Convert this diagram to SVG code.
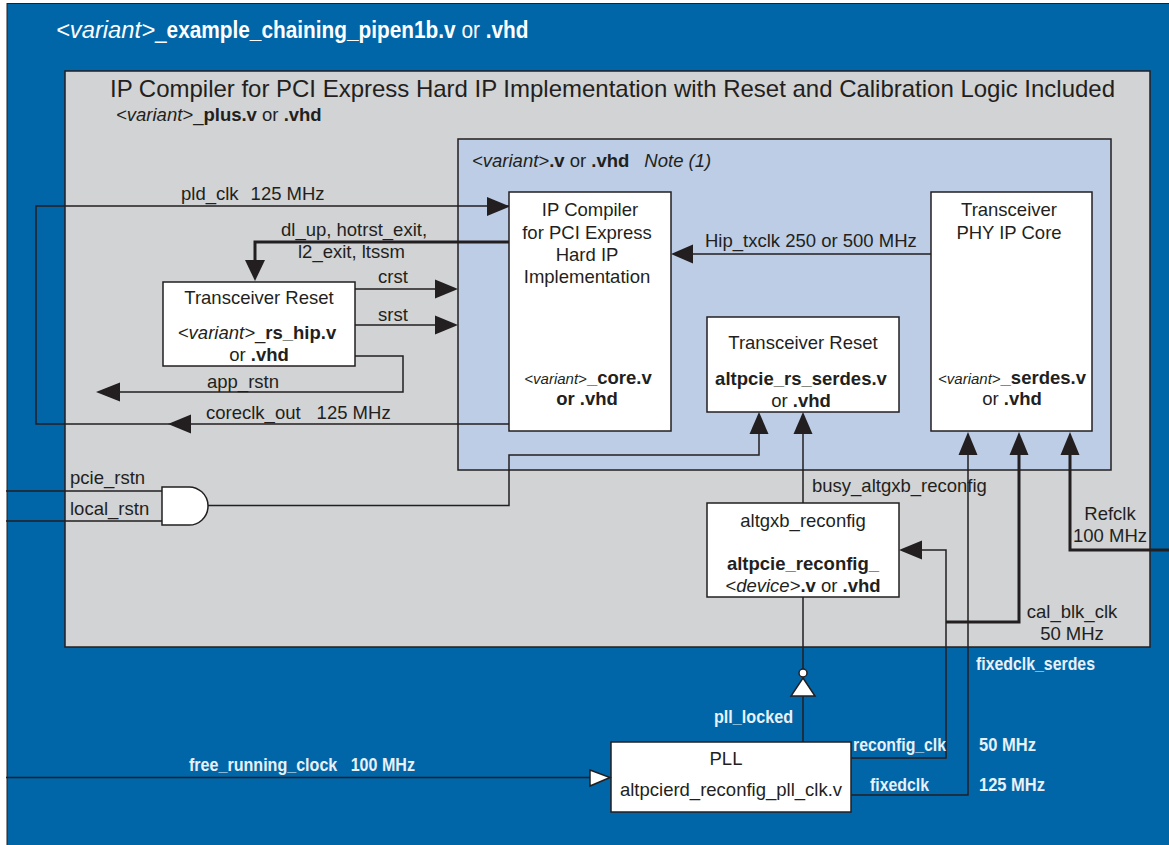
<svg xmlns="http://www.w3.org/2000/svg" width="1169" height="845" viewBox="0 0 1169 845">
<style>
text{font-family:"Liberation Sans",Arial,sans-serif;fill:#231f20;font-size:18.5px}
.m{text-anchor:middle}
.b{font-weight:bold}
.i{font-style:italic}
.sm{font-size:15px}
.w{fill:#fff;font-size:23px}
.wb{fill:#e8f0f8;font-weight:bold;font-size:19px}
.box{fill:#fff;stroke:#231f20;stroke-width:1.5}
.l{fill:none;stroke:#231f20;stroke-width:1.5}
.t{fill:none;stroke:#231f20;stroke-width:3}
.a{fill:#231f20}
</style>
<rect id="outer" x="7" y="3.500" width="1170" height="850" fill="#0066a8" stroke="#231f20" stroke-width="1"/>
<rect id="plus" x="65" y="71" width="1085" height="576" fill="#d1d3d4" stroke="#231f20" stroke-width="1.5"/>
<rect id="variant" x="458" y="139" width="653" height="331" fill="#bccde5" stroke="#231f20" stroke-width="1.5"/>
<g id="titles">
<text x="56" y="38" class="w i" textLength="99" lengthAdjust="spacingAndGlyphs">&lt;variant&gt;</text>
<text transform="translate(155 38) scale(.905 1)" class="w">_<tspan class="b">example_chaining_pipen1b.v</tspan> or <tspan class="b">.vhd</tspan></text>
<text x="110" y="97" style="font-size:24px" textLength="1005" lengthAdjust="spacing">IP Compiler for PCI Express Hard IP Implementation with Reset and Calibration Logic Included</text>
<text x="116" y="121"><tspan class="i">&lt;variant&gt;</tspan>_<tspan class="b">plus.v</tspan> or <tspan class="b">.vhd</tspan></text>
<text x="472" y="167"><tspan class="i">&lt;variant&gt;</tspan><tspan class="b">.v</tspan> or <tspan class="b">.vhd</tspan><tspan class="i" dx="15">Note (1)</tspan></text>
</g>
<g id="connectors">
<path class="l" d="M509 206H36V424H509"/>
<path class="t" d="M509 242H255V262"/>
<path class="l" d="M355 289H440M355 325H440M355 356H403V392H110"/>
<path class="l" d="M6 491H162M6 521H162M208 505.500H509V455H759V430"/>
<path class="l" d="M803 503V430M803 597V669M803 696V742"/>
<path class="l" d="M851 758H946V550H915M851 795H968V450"/>
<path class="t" d="M946 622H1019V440M1070 440V550H1169"/>
<path class="l" d="M6 777.500H592M931 254H685"/>
<g class="a">
<path d="M510 206.500L487 197V216Z"/>
<path d="M255 281L245 260H265Z"/>
<path d="M458 289L435 279.500V298.500Z"/>
<path d="M458 325L435 315.500V334.500Z"/>
<path d="M96 392L120 382.500V401.500Z"/>
<path d="M168 424L191 414.500V433.500Z"/>
<path d="M671 254L693 244.500V263.500Z"/>
<path d="M759 412L749.500 434H768.500Z"/>
<path d="M803 412L793.500 434H812.500Z"/>
<path d="M968 432L958.500 455H977.500Z"/>
<path d="M1019 432L1009.500 455H1028.500Z"/>
<path d="M1070 432L1060.500 455H1079.500Z"/>
<path d="M899 550L922 540.500V559.500Z"/>
</g>
</g>
<g id="ip-core">
<rect class="box" x="509" y="192" width="162" height="239"/>
<text class="m" x="590" y="216">IP Compiler</text>
<text class="m" x="587" y="239">for PCI Express</text>
<text class="m" x="587" y="261">Hard IP</text>
<text class="m" x="587" y="283">Implementation</text>
<text class="m" x="588" y="384"><tspan class="i sm">&lt;variant&gt;</tspan><tspan class="b">_core.v</tspan></text>
<text class="m b" x="587" y="405">or .vhd</text>
</g>
<g id="phy">
<rect class="box" x="931" y="192" width="161" height="239"/>
<text class="m" x="1009" y="216">Transceiver</text>
<text class="m" x="1009" y="239">PHY IP Core</text>
<text class="m" x="1012" y="384"><tspan class="i sm">&lt;variant&gt;</tspan><tspan class="b">_serdes.v</tspan></text>
<text class="m" x="1012" y="405">or <tspan class="b">.vhd</tspan></text>
</g>
<g id="reset-serdes">
<rect class="box" x="707" y="317" width="192" height="95"/>
<text class="m" x="803" y="349">Transceiver Reset</text>
<text class="m b" x="801" y="385">altpcie_rs_serdes.v</text>
<text class="m" x="801" y="407">or <tspan class="b">.vhd</tspan></text>
</g>
<g id="reset-hip">
<rect class="box" x="163" y="282" width="192" height="84"/>
<text class="m" x="259" y="304">Transceiver Reset</text>
<text class="m" x="257" y="339"><tspan class="i">&lt;variant&gt;</tspan>_<tspan class="b">rs_hip.v</tspan></text>
<text class="m" x="259" y="361">or <tspan class="b">.vhd</tspan></text>
</g>
<g id="reconfig">
<rect class="box" x="707" y="503" width="192" height="94"/>
<text class="m" x="803" y="527">altgxb_reconfig</text>
<text class="m b" x="803" y="570">altpcie_reconfig_</text>
<text class="m" x="803" y="592"><tspan class="i">&lt;device&gt;</tspan><tspan class="b">.v</tspan> or <tspan class="b">.vhd</tspan></text>
</g>
<g id="pll">
<rect class="box" x="611" y="742" width="240" height="70"/>
<text class="m" x="726" y="765">PLL</text>
<text class="m" x="731" y="796">altpcierd_reconfig_pll_clk.v</text>
</g>
<g id="and-gate">
<path class="box" d="M162 487H187A19 19 0 0 1 208 506A19 19 0 0 1 187 525H162Z"/>
</g>
<g id="inverter">
<circle cx="803" cy="673" r="4" fill="#fff" stroke="#231f20" stroke-width="1.500"/>
<path class="box" d="M803 678L815 696H791Z"/>
</g>
<g id="clock-in">
<path class="box" d="M590 770L610 777.500L590 786Z"/>
</g>
<g id="labels">
<text x="181" y="200">pld_clk<tspan dx="12">125 MHz</tspan></text>
<text x="281" y="236">dl_up, hotrst_exit,</text>
<text x="298" y="258">l2_exit, ltssm</text>
<text x="378" y="283">crst</text>
<text x="378" y="321">srst</text>
<text x="207" y="388">app_rstn</text>
<text x="206" y="419">coreclk_out<tspan dx="16">125 MHz</tspan></text>
<text x="70" y="484">pcie_rstn</text>
<text x="70" y="515">local_rstn</text>
<text x="705" y="247">Hip_txclk 250 or 500 MHz</text>
<text x="812" y="492">busy_altgxb_reconfig</text>
<text class="m" x="1110" y="520">Refclk</text>
<text class="m" x="1110" y="542">100 MHz</text>
<text class="m" x="1072" y="618">cal_blk_clk</text>
<text class="m" x="1072" y="640">50 MHz</text>
<text class="wb" x="976" y="670" textLength="119" lengthAdjust="spacingAndGlyphs">fixedclk_serdes</text>
<text class="wb" x="714" y="723" textLength="79" lengthAdjust="spacingAndGlyphs">pll_locked</text>
<text class="wb" x="853" y="751" textLength="93" lengthAdjust="spacingAndGlyphs">reconfig_clk</text>
<text class="wb" x="979" y="751" textLength="57" lengthAdjust="spacingAndGlyphs">50 MHz</text>
<text class="wb" x="870" y="791" textLength="59" lengthAdjust="spacingAndGlyphs">fixedclk</text>
<text class="wb" x="979" y="791" textLength="66" lengthAdjust="spacingAndGlyphs">125 MHz</text>
<text class="wb" x="189" y="771" textLength="226" lengthAdjust="spacingAndGlyphs">free_running_clock&#160;&#160;&#160;100 MHz</text>
</g>
</svg>
